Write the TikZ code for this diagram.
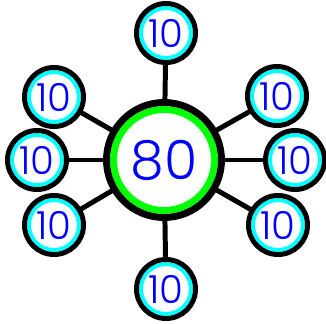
\documentclass[tikz,border=0pt]{standalone}
\usepackage{fontspec}
\setmainfont{Poppins Light}
\usetikzlibrary{backgrounds}
\definecolor{ringgreen}{HTML}{00FF00}
\definecolor{ringcyan}{HTML}{00FFFF}
\definecolor{digit}{HTML}{0000FF}

\begin{document}
\begin{tikzpicture}[x=0.03cm,y=-0.03cm,
    hub/.style={circle,draw=black,line width=5.9pt,fill=white,minimum size=3.45cm,inner sep=0pt,
      text=digit,font=\fontsize{46}{46}\selectfont,
      path picture={\draw[ringgreen,line width=5.9pt] (path picture bounding box.center) circle (1.515cm);}},
    leaf/.style={circle,draw=black,line width=4.25pt,fill=white,minimum size=1.77cm,inner sep=0pt,
      text=digit,font=\fontsize{33}{33}\selectfont,
      path picture={\draw[ringcyan,line width=3.4pt] (path picture bounding box.center) circle (0.75cm);}}]
  \useasboundingbox (0,0) rectangle (326,323);
  \node[hub] (c) at (164,160) {80};
  \node[leaf] (n) at (166,33) {10};
  \node[leaf] (nw) at (54,97) {10};
  \node[leaf] (w) at (37,160) {10};
  \node[leaf] (sw) at (54,225) {10};
  \node[leaf] (s) at (166,289) {10};
  \node[leaf] (se) at (278,225) {10};
  \node[leaf] (e) at (295,160) {10};
  \node[leaf] (ne) at (277,96) {10};
  \begin{scope}[on background layer]
    \foreach \t in {n,nw,w,sw,s,se,e,ne}{
      \draw[line width=4.25pt] (c.center)--(\t.center);}
  \end{scope}
\end{tikzpicture}
\end{document}
